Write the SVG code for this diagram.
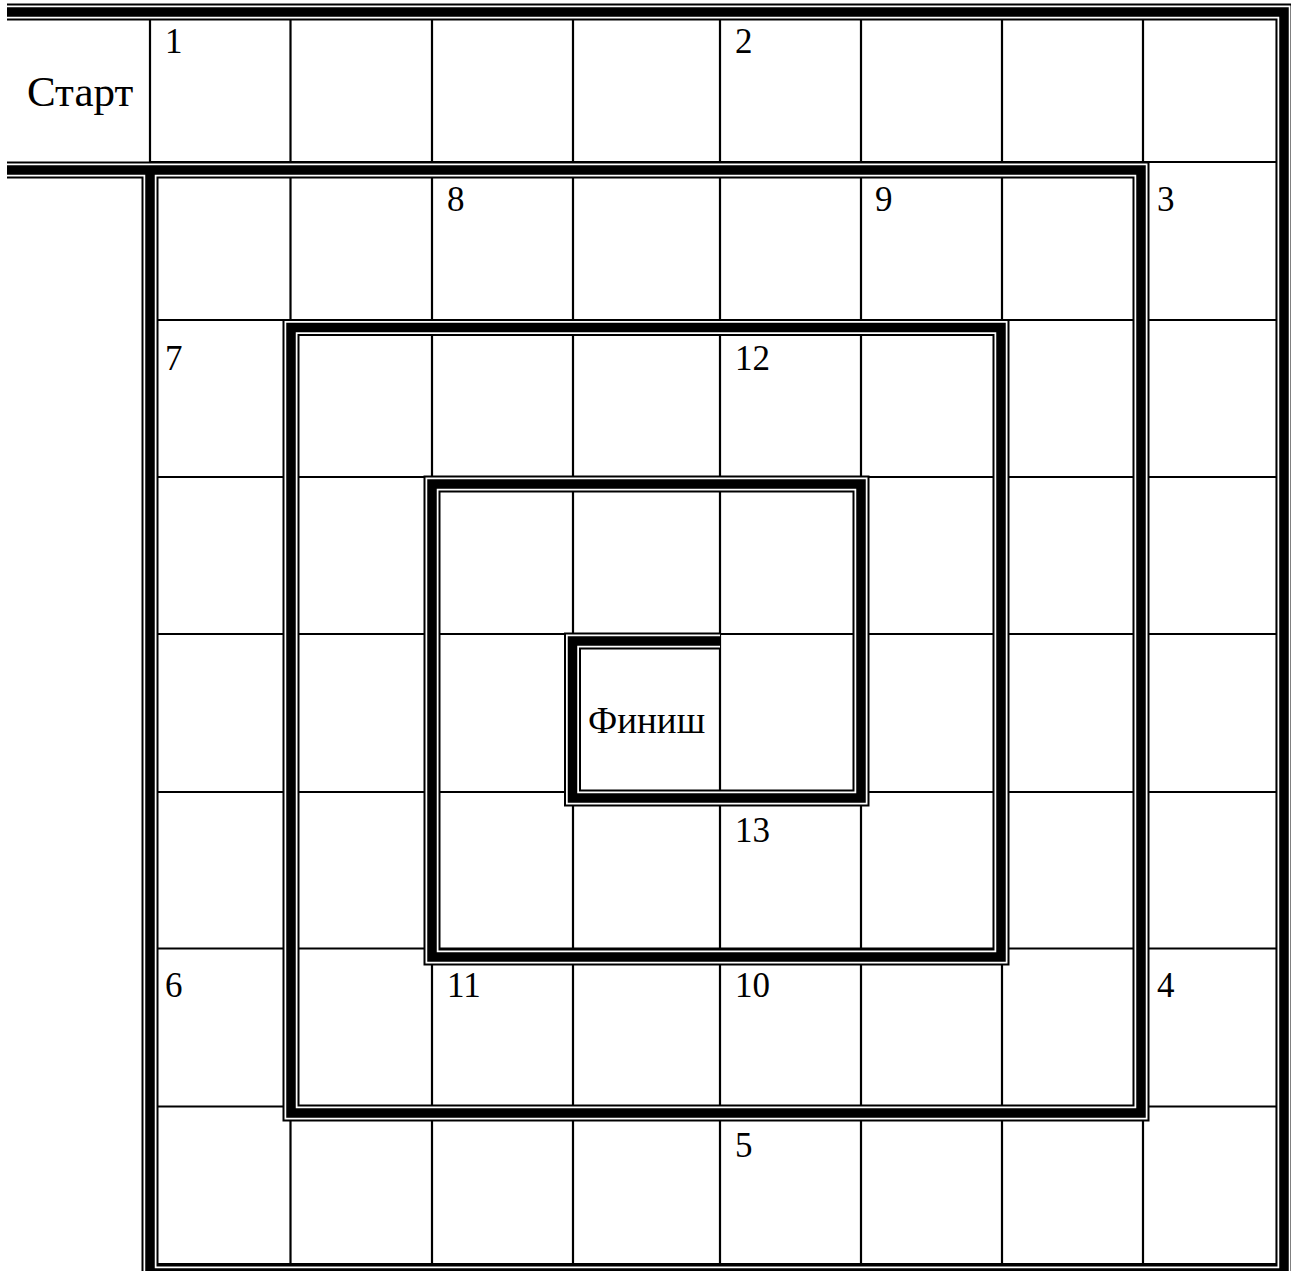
<svg xmlns="http://www.w3.org/2000/svg" width="1291" height="1271" viewBox="0 0 1291 1271">
  <style>
    .grid { fill: none; stroke: #000; stroke-width: 2.2; }
    .w1 { fill: none; stroke: #000; stroke-width: 17; stroke-linejoin: miter; stroke-linecap: butt; }
    .w2 { fill: none; stroke: #fff; stroke-width: 13; stroke-linejoin: miter; stroke-linecap: butt; }
    .w3 { fill: none; stroke: #000; stroke-width: 9.5; stroke-linejoin: miter; stroke-linecap: butt; }
    text { font-family: 'Liberation Serif', 'Times New Roman', serif; fill: #000; }
  </style>
  <defs>
    <path id="wallA" d="M7,12 H1284 V1273 H150 V170"/>
    <path id="wallB" d="M7,170 H1141 V1113 H291 V327.5 H1001 V957 H432 V484 H861 V798 H572.5 V641 H720"/>
  </defs>
  <rect x="0" y="0" width="1291" height="1271" fill="#fff"/>
  <g id="grid">
    <path class="grid" d="M150,162 H1277 M150,320 H1277 M150,477 H1277 M150,634 H1277 M150,792 H1277 M150,948.5 H1277 M150,1106.5 H1277 M150,1264 H1277"/>
    <path class="grid" d="M150,12 V162 M290.5,12 V1264 M432,12 V1264 M573,12 V1264 M720,12 V1264 M861,12 V1264 M1002,12 V1264 M1143,12 V1264 M1277,12 V1264"/>
  </g>
  <g id="walls">
    <use href="#wallA" class="w1"/>
    <use href="#wallB" class="w1"/>
    <use href="#wallA" class="w2"/>
    <use href="#wallB" class="w2"/>
    <use href="#wallA" class="w3"/>
    <use href="#wallB" class="w3"/>
  </g>
  <g id="start"><text x="27" y="106" font-size="43">Старт</text></g>
  <g id="finish"><text x="588" y="733" font-size="37">Финиш</text></g>
  <g id="labels" font-size="35">
    <text x="165" y="53">1</text>
    <text x="735" y="53">2</text>
    <text x="1157" y="211">3</text>
    <text x="447" y="211">8</text>
    <text x="875" y="211">9</text>
    <text x="165" y="370">7</text>
    <text x="735" y="370">12</text>
    <text x="735" y="842">13</text>
    <text x="165" y="997">6</text>
    <text x="447" y="997">11</text>
    <text x="735" y="997">10</text>
    <text x="1157" y="997">4</text>
    <text x="735" y="1157">5</text>
  </g>
</svg>
